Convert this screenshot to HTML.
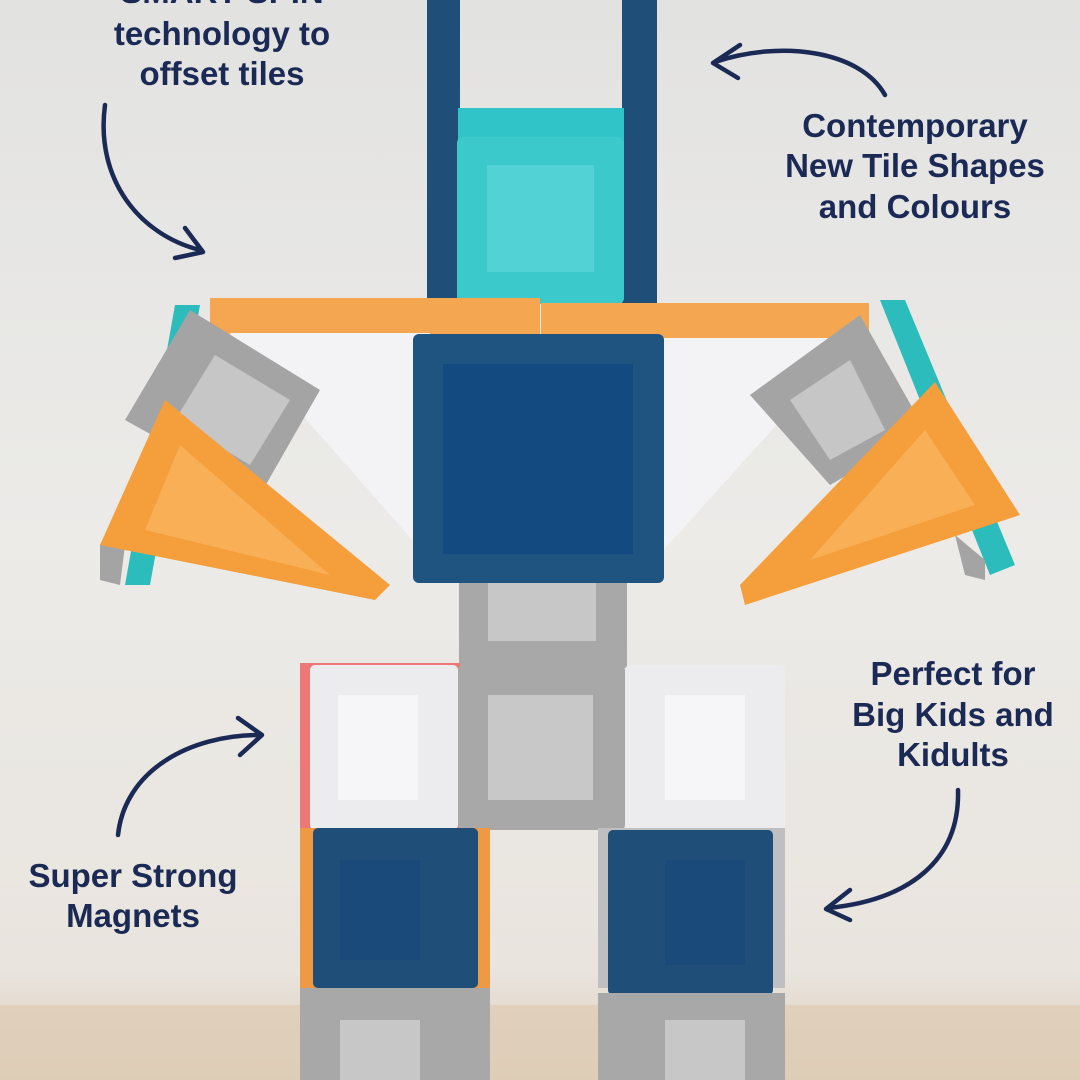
<!DOCTYPE html>
<html><head><meta charset="utf-8"><style>
html,body{margin:0;padding:0;background:#e8e8e6}
svg{display:block}
text{font-family:"Liberation Sans",sans-serif;font-weight:bold;fill:#1b2a55;font-size:33px;text-anchor:middle}
</style></head><body>
<svg width="1080" height="1080" viewBox="0 0 1080 1080">
<defs>
<linearGradient id="bg" x1="0" y1="0" x2="0" y2="1">
<stop offset="0" stop-color="#e2e2e1"/><stop offset="0.5" stop-color="#ecebe8"/><stop offset="0.9" stop-color="#e9e4de"/><stop offset="1" stop-color="#dccab6"/>
</linearGradient>
</defs>
<rect width="1080" height="1080" fill="url(#bg)"/>
<rect x="0" y="1005" width="1080" height="75" fill="#dfcdb6" opacity="0.8"/>
<rect x="427" y="0" width="33" height="305" fill="#1f4e78"/>
<rect x="622" y="0" width="35" height="305" fill="#1f4e78"/>
<rect x="458" y="108" width="166" height="35" fill="#30c4c8"/>
<rect x="457" y="137" width="167" height="167" rx="6" fill="#3cc9cc"/>
<rect x="487" y="165" width="107" height="107" fill="#52d2d4"/>
<polygon points="175,305 200,305 150,585 125,585" fill="#2cbcbc"/>
<polygon points="880,300 905,300 1015,565 990,575" fill="#2cbcbc"/>
<rect x="210" y="298" width="330" height="36" fill="#f5a650"/>
<rect x="541" y="303" width="328" height="36" fill="#f5a650"/>
<polygon points="230,333 430,333 430,560" fill="#f3f3f5"/>
<polygon points="650,338 855,338 650,565" fill="#f3f3f5"/>
<polygon points="190,310 320,390 260,495 125,420" fill="#a4a4a4"/>
<polygon points="215,355 290,400 250,465 175,420" fill="#c6c6c6"/>
<polygon points="860,315 925,430 830,485 750,395" fill="#a4a4a4"/>
<polygon points="850,360 885,430 830,460 790,400" fill="#c6c6c6"/>
<polygon points="100,545 125,545 120,585 100,580" fill="#a4a4a4"/>
<polygon points="955,535 985,560 985,580 965,575" fill="#a4a4a4"/>
<polygon points="165,400 390,585 375,600 100,545" fill="#f59e3c"/>
<polygon points="180,445 330,575 145,530" fill="#f8af55"/>
<polygon points="935,382 1020,515 745,605 740,585" fill="#f59e3c"/>
<polygon points="925,430 975,505 810,560" fill="#f8af55"/>
<rect x="413" y="334" width="251" height="249" rx="6" fill="#1f5380"/>
<rect x="443" y="364" width="190" height="190" fill="#134a7f"/>
<rect x="459" y="583" width="168" height="85" fill="#a8a8a8"/>
<rect x="488" y="583" width="108" height="58" fill="#c7c7c7"/>
<rect x="300" y="663" width="160" height="165" fill="#ee7777"/>
<rect x="310" y="665" width="148" height="165" rx="5" fill="#ececef"/>
<rect x="338" y="695" width="80" height="105" fill="#f6f6f8"/>
<rect x="458" y="665" width="167" height="165" rx="5" fill="#a8a8a8"/>
<rect x="488" y="695" width="105" height="105" fill="#c8c8c8"/>
<rect x="625" y="665" width="160" height="165" rx="5" fill="#ececef"/>
<rect x="665" y="695" width="80" height="105" fill="#f6f6f8"/>
<rect x="300" y="828" width="190" height="160" fill="#ee9944"/>
<rect x="313" y="828" width="165" height="160" rx="5" fill="#1f4e78"/>
<rect x="340" y="860" width="80" height="100" fill="#1a4a7a"/>
<rect x="598" y="828" width="187" height="160" fill="#bfbfc2"/>
<rect x="608" y="830" width="165" height="165" rx="5" fill="#1f4e78"/>
<rect x="665" y="860" width="80" height="105" fill="#1a4a7a"/>
<rect x="300" y="988" width="190" height="92" fill="#a8a8a8"/>
<rect x="340" y="1020" width="80" height="60" fill="#c7c7c7"/>
<rect x="598" y="993" width="187" height="87" fill="#a8a8a8"/>
<rect x="665" y="1020" width="80" height="60" fill="#c7c7c7"/>
<text x="222" y="3">SMART SPIN</text>
<text x="222" y="45">technology to</text>
<text x="222" y="85">offset tiles</text>
<text x="915" y="137">Contemporary</text>
<text x="915" y="177">New Tile Shapes</text>
<text x="915" y="218">and Colours</text>
<text x="953" y="685">Perfect for</text>
<text x="953" y="726">Big Kids and</text>
<text x="953" y="766">Kidults</text>
<text x="133" y="887">Super Strong</text>
<text x="133" y="927">Magnets</text>
<g fill="none" stroke="#1b2a55" stroke-width="4.5" stroke-linecap="round" stroke-linejoin="round">
<path d="M105 105 C95 180 140 235 200 250"/><path d="M185 228 L203 252 L175 258"/>
<path d="M885 95 C860 50 780 40 715 62"/><path d="M740 45 L713 63 L738 78"/>
<path d="M118 835 C125 770 190 735 260 735"/><path d="M238 718 L262 735 L240 755"/>
<path d="M958 790 C960 860 910 900 828 908"/><path d="M850 890 L826 909 L850 920"/>
</g>
</svg>
</body></html>
